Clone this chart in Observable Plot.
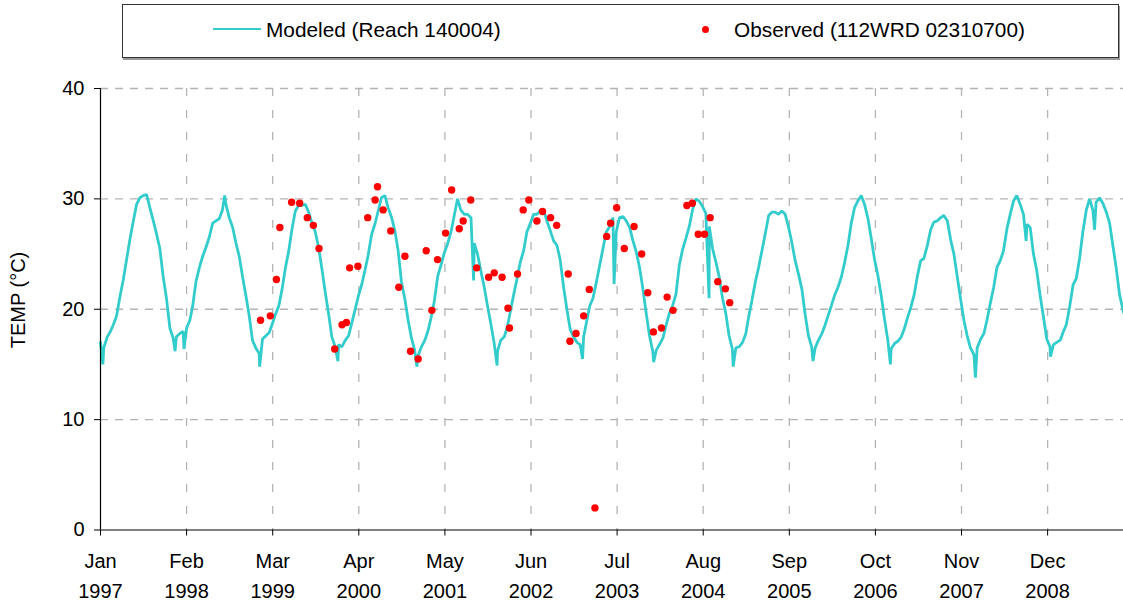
<!DOCTYPE html>
<html>
<head>
<meta charset="utf-8">
<script src="https://cdn.jsdelivr.net/npm/d3@7"></script>
<script src="https://cdn.jsdelivr.net/npm/@observablehq/plot@0.6"></script>
<style>
  html, body { margin: 0; padding: 0; background: #fff; overflow: hidden; }
  #wrap { position: relative; width: 1123px; height: 606px; font-family: "Liberation Sans", Arial, sans-serif; color: #000; }
  #legend { position: absolute; left: 122px; top: 4px; width: 995px; height: 52px; border: 1px solid #333; box-shadow: 1px 2px 0 #999; background: #fff; }
  .ltext { position: absolute; font-size: 20.8px; line-height: 24px; white-space: nowrap; z-index: 2; }
  #sw1 { position: absolute; left: 213px; top: 28px; width: 48px; height: 2px; background: #33cccc; z-index: 2; }
  #sw2 { position: absolute; left: 702px; top: 26px; width: 7px; height: 7px; border-radius: 50%; background: #ff0000; z-index: 2; }
  #ylabel { position: absolute; left: -82px; top: 288px; width: 200px; height: 24px; line-height: 24px; text-align: center; font-size: 20px; transform: rotate(-90deg); white-space: nowrap; z-index: 3; }
  #chart { position: absolute; left: 0; top: 66px; z-index: 1; }
</style>
</head>
<body>
<div id="wrap">
  <div id="legend"></div>
  <div id="sw1"></div>
  <div class="ltext" style="left:266px; top:18px;">Modeled (Reach 140004)</div>
  <div id="sw2"></div>
  <div class="ltext" style="left:734px; top:18px;">Observed (112WRD 02310700)</div>
  <div id="chart"></div>
  <div id="ylabel">TEMP (°C)</div>
</div>
<script>
// ---- x axis ticks (every 396 days, labelled month / year) ----
const tickDates = ["1997-01-01","1998-02-01","1999-03-04","2000-04-03","2001-05-04","2002-06-04",
                   "2003-07-05","2004-08-04","2005-09-04","2006-10-05","2007-11-05","2008-12-05"];
const tickLabels = ["Jan\n1997","Feb\n1998","Mar\n1999","Apr\n2000","May\n2001","Jun\n2002",
                    "Jul\n2003","Aug\n2004","Sep\n2005","Oct\n2006","Nov\n2007","Dec\n2008"];
const yTicks = [0, 10, 20, 30, 40];
const xDomain = ["1997-01-01", "2009-11-19"];

// ---- Modeled (Reach 140004): values on the 1st and 16th of each month ----
const modeled1997 = [17.0,16.5,17.5,18.0,18.6,19.4,21.2,22.7,24.5,26.3,28.0,29.5,30.1,30.3,30.4,29.2,28.0,26.8,25.5,23.0,20.9,18.3,17.4,17.5];
const modeled1998 = [17.8,18.0,18.3,19.0,20.3,22.5,23.8,24.8,25.6,26.5,27.8,28.0,28.2,29.0,29.5,28.3,27.4,26.0,24.8,23.0,21.2,19.4,17.2,16.5];
const modeled1999 = [16.0,17.3,17.6,17.9,18.6,19.5,20.3,21.8,23.7,25.2,27.3,28.9,29.4,29.4,29.5,28.8,27.8,27.0,25.6,23.7,21.5,19.6,17.5,16.6];
const modeled2000 = [16.8,16.6,17.2,17.6,18.7,19.9,21.2,22.2,23.5,24.9,26.8,27.7,28.9,30.1,30.3,29.2,28.3,27.1,25.3,22.5,20.9,19.0,17.4,16.3];
const modeled2001 = [15.8,16.6,17.2,18.1,19.2,20.7,23.0,24.0,25.1,25.9,27.0,28.5,30.0,29.0,28.6,28.6,28.3,26.0,25.0,23.5,22.0,20.3,18.7,17.0];
const modeled2002 = [16.2,17.2,17.5,18.5,19.8,21.3,22.8,24.3,25.3,27.0,27.8,28.6,28.6,28.9,29.0,28.0,27.1,26.2,25.8,24.5,22.0,20.0,18.2,17.5];
const modeled2003 = [17.0,16.8,17.5,19.0,20.3,21.0,22.5,24.0,25.5,27.0,27.5,28.3,27.0,28.3,28.4,28.0,27.4,26.2,25.2,23.8,21.8,19.6,17.6,16.2];
const modeled2004 = [16.3,16.8,17.4,18.6,19.6,20.3,21.4,24.0,25.4,26.4,27.5,29.0,30.0,29.8,29.3,28.7,27.5,25.5,24.3,23.0,21.0,19.6,17.6,16.4];
const modeled2005 = [16.5,16.6,17.0,17.8,19.3,20.8,22.5,23.8,25.3,26.8,28.5,28.8,28.8,28.6,28.9,28.6,27.4,26.0,24.4,23.2,21.8,19.5,17.6,16.6];
const modeled2006 = [16.5,17.2,17.8,18.6,19.4,20.3,21.3,22.0,22.9,24.2,25.8,27.8,29.2,29.8,30.3,29.5,28.2,26.4,24.5,23.1,21.2,19.1,17.2,16.4];
const modeled2007 = [16.9,17.1,17.5,18.3,19.2,20.1,21.3,23.0,24.4,24.6,25.8,27.2,27.9,28.0,28.3,28.5,28.0,26.3,25.0,23.0,20.9,19.0,17.6,16.5];
const modeled2008 = [15.9,16.5,17.3,17.8,19.0,20.5,22.0,23.8,24.4,25.3,27.3,28.6,29.8,30.3,29.5,28.6,27.7,27.4,25.0,23.5,21.2,19.3,17.3,16.6];
const modeled2009 = [16.8,17.0,17.2,18.0,18.6,20.2,22.2,22.8,24.6,27.0,29.0,30.0,29.0,29.7,30.1,29.6,28.8,27.8,25.8,23.8,21.3,20.0];
const modeledYears = [1997,1998,1999,2000,2001,2002,2003,2004,2005,2006,2007,2008,2009];
const modeledSeries = [modeled1997,modeled1998,modeled1999,modeled2000,modeled2001,modeled2002,modeled2003,
                       modeled2004,modeled2005,modeled2006,modeled2007,modeled2008,modeled2009];
// individual daily spikes
const spikeDates  = ["1997-01-12","1997-12-10","1998-01-20","1998-07-26","1999-01-03","1999-12-29","2000-12-26",
                     "2001-09-13","2001-12-30","2003-01-27","2003-06-21","2003-12-20","2004-08-31","2004-12-20",
                     "2005-12-22","2006-12-13","2008-01-08","2008-08-28","2008-12-18","2009-07-09","2009-11-19"];
const spikeValues = [15.0,16.2,16.4,30.3,14.8,15.3,14.8,
                     22.6,14.9,15.5,22.3,15.2,21.0,14.8,
                     15.3,15.0,13.8,26.2,15.7,27.2,19.7];

// ---- Observed (112WRD 02310700) ----
const obsDates = ["1999-01-07","1999-02-21","1999-03-21","1999-04-06","1999-05-30","1999-07-06","1999-08-10","1999-09-07","1999-10-03","1999-12-14",
  "2000-01-17","2000-02-06","2000-02-21","2000-03-30","2000-05-14","2000-06-17","2000-06-28","2000-07-24","2000-08-28","2000-10-04","2000-11-01","2000-11-27",
  "2001-01-01","2001-02-07","2001-03-05","2001-03-31","2001-05-07","2001-06-04","2001-07-09","2001-07-27","2001-08-31","2001-09-27","2001-11-21","2001-12-17",
  "2002-01-22","2002-02-18","2002-02-25","2002-04-03","2002-04-29","2002-05-25","2002-07-01","2002-07-27","2002-09-02","2002-09-30","2002-11-22","2002-11-30","2002-12-28",
  "2003-02-01","2003-02-27","2003-03-25","2003-05-18","2003-06-05","2003-07-03","2003-08-07","2003-09-21","2003-10-26","2003-11-23","2003-12-19",
  "2004-01-25","2004-02-20","2004-03-18","2004-05-21","2004-06-15","2004-07-12","2004-08-10","2004-09-05","2004-10-10","2004-11-14","2004-12-04"];
const obsValues = [19.0,19.4,22.7,27.4,29.7,29.6,28.3,27.6,25.5,16.4,
  18.6,18.8,23.75,23.9,28.3,29.9,31.1,29.0,27.1,22.0,24.8,16.2,
  15.5,25.3,19.9,24.5,26.9,30.8,27.3,28.0,29.9,23.75,22.9,23.3,
  22.9,20.1,18.3,23.2,29.0,29.9,28.0,28.85,28.3,27.6,23.2,17.1,17.8,
  19.4,21.8,2.0,26.6,27.8,29.2,25.5,27.5,25.0,21.5,17.95,
  18.3,21.1,19.9,29.4,29.6,26.8,26.8,28.3,22.5,21.85,20.6];

// ---- build tables ----
const modeled = [];
modeledSeries.forEach((vals, k) => {
  vals.forEach((v, i) => modeled.push({date: new Date(Date.UTC(modeledYears[k], Math.floor(i / 2), i % 2 ? 16 : 1)), temp: v}));
});
spikeDates.forEach((d, i) => modeled.push({date: new Date(d), temp: spikeValues[i]}));
modeled.sort((a, b) => a.date - b.date);
const observed = obsDates.map((d, i) => ({date: new Date(d), temp: obsValues[i]}));
const ticks = tickDates.map(d => new Date(d));
const labelOf = new Map(ticks.map((d, i) => [+d, tickLabels[i]]));

const chart = Plot.plot({
  width: 1123,
  height: 540,
  marginLeft: 100,
  marginRight: 0,
  marginTop: 22,
  marginBottom: 76.5,
  style: {fontFamily: '"Liberation Sans", Arial, sans-serif', fontSize: "20px", color: "#000", background: "transparent", overflow: "hidden"},
  x: {type: "utc", domain: xDomain.map(d => new Date(d)), label: null},
  y: {domain: [0, 40], label: null},
  marks: [
    Plot.ruleY(yTicks.filter(v => v > 0), {stroke: "#b4b4b4", strokeWidth: 1.3, strokeDasharray: "8,7"}),
    Plot.ruleX(ticks.slice(1), {stroke: "#b4b4b4", strokeWidth: 1.3, strokeDasharray: "8,14"}),
    Plot.line(modeled, {x: "date", y: "temp", stroke: "#33cccc", strokeWidth: 2.8, strokeLinejoin: "miter"}),
    Plot.dot(observed, {x: "date", y: "temp", r: 3.7, fill: "#ff0000", stroke: "none"}),
    Plot.ruleY([0], {stroke: "#000", strokeWidth: 1.2}),
    Plot.ruleX([ticks[0]], {stroke: "#000", strokeWidth: 1.2}),
    Plot.axisY({ticks: yTicks, tickSize: 6, tickPadding: 10, fontSize: 20, label: null, stroke: "#000"}),
    Plot.axisX({ticks: ticks, tickSize: 6, tickPadding: 11.5, fontSize: 20, lineHeight: 1.475,
                tickFormat: d => labelOf.get(+d), label: null, stroke: "#000"})
  ]
});
document.getElementById("chart").appendChild(chart);
</script>
</body>
</html>
